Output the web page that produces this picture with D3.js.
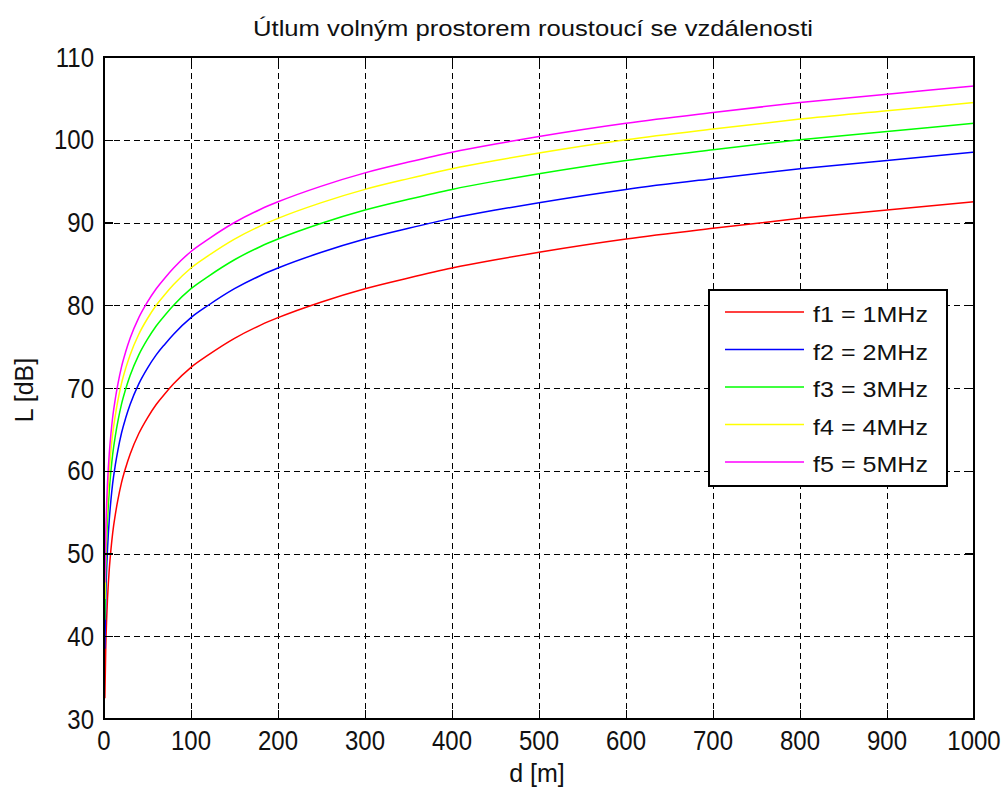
<!DOCTYPE html>
<html>
<head>
<meta charset="utf-8">
<script src="https://cdn.jsdelivr.net/npm/d3@7"></script>
<style>
  html, body { margin: 0; padding: 0; background: #fff; }
  svg { display: block; }
  text { font-family: "Liberation Sans", Arial, sans-serif; fill: #111; }
</style>
</head>
<body>
<svg id="chart" width="1001" height="789"></svg>
<script>
// Distance samples [m]
const distances = [1, 2, 3, 4, 5, 6, 8, 10, 13, 16, 20, 25, 30, 40, 50, 60, 70, 80, 100, 120, 150, 180, 200, 250, 300, 350, 400, 450, 500, 600, 700, 800, 900, 1000];

// Free-space loss [dB] per frequency
const lossF1 = [32.5, 38.5, 42.0, 44.5, 46.4, 48.0, 50.5, 52.5, 54.7, 56.5, 58.5, 60.4, 62.0, 64.5, 66.4, 68.0, 69.3, 70.5, 72.5, 74.0, 76.0, 77.6, 78.5, 80.4, 82.0, 83.3, 84.5, 85.5, 86.4, 88.0, 89.3, 90.5, 91.5, 92.5];
const lossF2 = [38.5, 44.5, 48.0, 50.5, 52.4, 54.0, 56.5, 58.5, 60.7, 62.5, 64.5, 66.4, 68.0, 70.5, 72.4, 74.0, 75.3, 76.5, 78.5, 80.0, 82.0, 83.6, 84.5, 86.4, 88.0, 89.3, 90.5, 91.5, 92.4, 94.0, 95.3, 96.5, 97.5, 98.5];
const lossF3 = [42.0, 48.0, 51.5, 54.0, 55.9, 57.5, 60.0, 62.0, 64.2, 66.0, 68.0, 69.9, 71.5, 74.0, 75.9, 77.5, 78.8, 80.0, 82.0, 83.5, 85.5, 87.1, 88.0, 89.9, 91.5, 92.8, 94.0, 95.0, 95.9, 97.5, 98.8, 100.0, 101.0, 102.0];
const lossF4 = [44.5, 50.5, 54.0, 56.5, 58.4, 60.0, 62.5, 64.5, 66.7, 68.5, 70.5, 72.4, 74.0, 76.5, 78.4, 80.0, 81.3, 82.5, 84.5, 86.0, 88.0, 89.6, 90.5, 92.4, 94.0, 95.3, 96.5, 97.5, 98.4, 100.0, 101.3, 102.5, 103.5, 104.5];
const lossF5 = [46.5, 52.5, 56.0, 58.5, 60.4, 62.0, 64.5, 66.5, 68.7, 70.5, 72.5, 74.4, 76.0, 78.5, 80.4, 82.0, 83.3, 84.5, 86.5, 88.0, 90.0, 91.6, 92.5, 94.4, 96.0, 97.3, 98.5, 99.5, 100.4, 102.0, 103.3, 104.5, 105.5, 106.5];

const seriesNames = ["f1 = 1MHz", "f2 = 2MHz", "f3 = 3MHz", "f4 = 4MHz", "f5 = 5MHz"];
const seriesValues = [lossF1, lossF2, lossF3, lossF4, lossF5];
const seriesColors = ["#ff0000", "#0000ff", "#00ff00", "#ffff00", "#ff00ff"];

const xTicks = [0, 100, 200, 300, 400, 500, 600, 700, 800, 900, 1000];
const yTicks = [30, 40, 50, 60, 70, 80, 90, 100, 110];

const titleText = "Útlum volným prostorem roustoucí se vzdálenosti";
const xLabel = "d [m]";
const yLabel = "L [dB]";

const plot = { left: 104, right: 974, top: 57, bottom: 719 };
const svg = d3.select("#chart");

const x = d3.scaleLinear().domain([0, 1000]).range([plot.left, plot.right]);
const y = d3.scaleLinear().domain([30, 110]).range([plot.bottom, plot.top]);

// Dashed grid
const grid = svg.append("g").attr("stroke", "#000").attr("stroke-width", 1)
  .attr("stroke-dasharray", "6,4").attr("shape-rendering", "crispEdges");
xTicks.slice(1, -1).forEach(t => {
  const px = Math.round(x(t)) + 0.5;
  grid.append("line").attr("x1", px).attr("x2", px).attr("y1", plot.bottom).attr("y2", plot.top);
});
yTicks.slice(1, -1).forEach(t => {
  const py = Math.round(y(t)) + 0.5;
  grid.append("line").attr("x1", plot.left).attr("x2", plot.right).attr("y1", py).attr("y2", py);
});

// Curves
const line = d3.line().x((d, i) => x(distances[i])).y(d => y(d)).curve(d3.curveMonotoneX);
seriesValues.forEach((vals, k) => {
  svg.append("path").datum(vals).attr("d", line)
    .attr("fill", "none").attr("stroke", seriesColors[k]).attr("stroke-width", 1.5);
});

// Axes: inward ticks on all four sides, labels drawn separately
const tickLen = 9;
function styleAxis(g) {
  g.select(".domain").remove();
  g.selectAll(".tick line").attr("stroke", "#000").attr("stroke-width", 1.2).attr("shape-rendering", "crispEdges");
  g.selectAll(".tick text").remove();
}
svg.append("g").attr("transform", `translate(0,${plot.bottom})`)
  .call(d3.axisBottom(x).tickValues(xTicks).tickSizeInner(-tickLen).tickSizeOuter(0)).call(styleAxis);
svg.append("g").attr("transform", `translate(0,${plot.top})`)
  .call(d3.axisTop(x).tickValues(xTicks).tickSizeInner(-tickLen).tickSizeOuter(0)).call(styleAxis);
svg.append("g").attr("transform", `translate(${plot.left},0)`)
  .call(d3.axisLeft(y).tickValues(yTicks).tickSizeInner(-tickLen).tickSizeOuter(0)).call(styleAxis);
svg.append("g").attr("transform", `translate(${plot.right},0)`)
  .call(d3.axisRight(y).tickValues(yTicks).tickSizeInner(-tickLen).tickSizeOuter(0)).call(styleAxis);

// Tick labels (slightly tall glyphs)
const tickFont = 24, stretch = 1.12;
svg.append("g").selectAll("text").data(xTicks).join("text")
  .attr("transform", d => `translate(${x(d)},${plot.bottom + 31}) scale(1,${stretch})`)
  .attr("text-anchor", "middle").attr("font-size", tickFont).text(d => d3.format("d")(d));
svg.append("g").selectAll("text").data(yTicks).join("text")
  .attr("transform", d => `translate(${plot.left - 10},${y(d) + 9.5}) scale(1,${stretch})`)
  .attr("text-anchor", "end").attr("font-size", tickFont).text(d => d3.format("d")(d));

svg.append("rect").attr("x", plot.left).attr("y", plot.top)
  .attr("width", plot.right - plot.left).attr("height", plot.bottom - plot.top)
  .attr("fill", "none").attr("stroke", "#000").attr("stroke-width", 1.5).attr("shape-rendering", "crispEdges");

// Title and axis labels
svg.append("text").attr("x", 253).attr("y", 36)
  .attr("font-size", 22).attr("textLength", 560).attr("lengthAdjust", "spacingAndGlyphs").text(titleText);
svg.append("text").attr("x", 537).attr("y", 782)
  .attr("text-anchor", "middle").attr("font-size", 25).text(xLabel);
svg.append("text").attr("transform", `translate(33,390) rotate(-90)`)
  .attr("text-anchor", "middle").attr("font-size", 25).text(yLabel);

// Legend
const legend = { x: 709, y: 290, w: 238, h: 196 };
const lg = svg.append("g");
lg.append("rect").attr("x", legend.x).attr("y", legend.y).attr("width", legend.w).attr("height", legend.h)
  .attr("fill", "#fff").attr("stroke", "#000").attr("stroke-width", 1.6).attr("shape-rendering", "crispEdges");
const rowY = d3.scalePoint().domain(seriesNames).range([legend.y + 22, legend.y + 172]);
seriesNames.forEach((name, k) => {
  const yy = rowY(name);
  lg.append("line").attr("x1", legend.x + 16).attr("x2", legend.x + 95).attr("y1", yy).attr("y2", yy)
    .attr("stroke", seriesColors[k]).attr("stroke-width", 1.5);
  lg.append("text").attr("x", legend.x + 104).attr("y", yy + 10).attr("font-size", 22)
    .attr("textLength", 115).attr("lengthAdjust", "spacingAndGlyphs").text(name);
});
</script>
</body>
</html>
